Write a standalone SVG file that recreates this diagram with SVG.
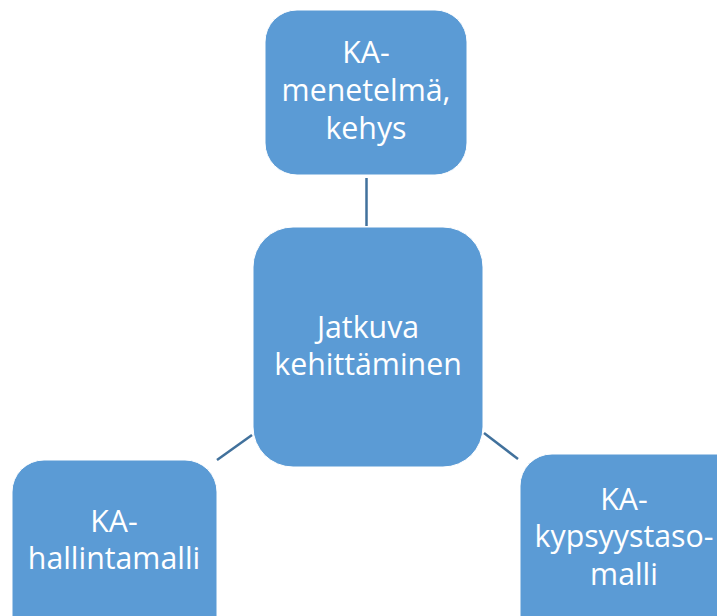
<svg xmlns="http://www.w3.org/2000/svg" width="717" height="616" viewBox="0 0 717 616">
<style>
.box{fill:#5B9BD5;stroke:#ffffff;stroke-width:1}
.lbl{fill:#ffffff;font-family:"Open Sans","Liberation Sans",sans-serif;font-size:30.3px;text-anchor:middle}
.conn{stroke:#41719C;stroke-width:2.5;fill:none}
</style>
<rect width="717" height="616" fill="#ffffff"/>
<g id="connectors">
<line class="conn" x1="366.5" y1="178" x2="366.5" y2="226"/>
<line class="conn" x1="217" y1="460" x2="252" y2="435"/>
<line class="conn" x1="484" y1="433" x2="518" y2="459"/>
</g>
<g id="top">
<rect class="box" x="265" y="10" width="202" height="165" rx="32"/>
<text class="lbl" x="366" y="63">KA-</text>
<text class="lbl" x="366" y="101">menetelmä,</text>
<text class="lbl" x="366" y="139">kehys</text>
</g>
<g id="center">
<rect class="box" x="253" y="227" width="230" height="240" rx="40"/>
<text class="lbl" x="368" y="338">Jatkuva</text>
<text class="lbl" x="368" y="375">kehittäminen</text>
</g>
<g id="left">
<rect class="box" x="12" y="460" width="205" height="190" rx="32"/>
<text class="lbl" x="114" y="532">KA-</text>
<text class="lbl" x="114" y="569">hallintamalli</text>
</g>
<g id="right">
<rect class="box" x="520" y="454" width="230" height="200" rx="32"/>
<text class="lbl" x="624" y="510">KA-</text>
<text class="lbl" x="624" y="547">kypsyystaso-</text>
<text class="lbl" x="624" y="585">malli</text>
</g>
</svg>
